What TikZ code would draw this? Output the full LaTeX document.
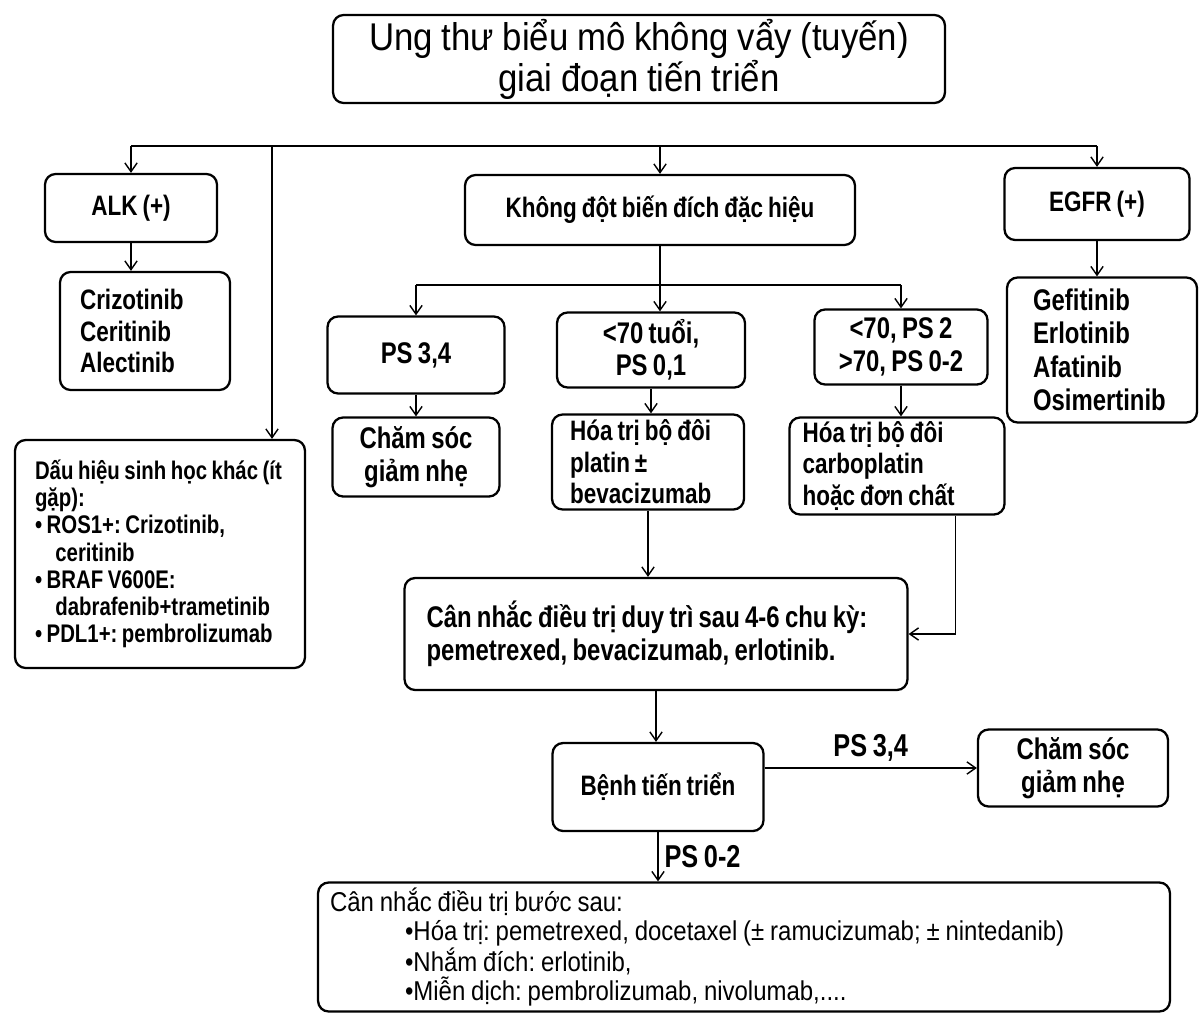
\documentclass[tikz,border=0pt]{standalone}
\usepackage{fontspec}
\setmainfont{Liberation Sans}
\newfontfamily\headfont{Liberation Sans}[FakeStretch=0.9, WordSpace=0.9]
\newfontfamily\boxfont{Liberation Sans}[FakeStretch=0.8, WordSpace=0.8]
\newfontfamily\notefont{Liberation Sans}[FakeStretch=0.88, WordSpace=0.88]
\frenchspacing
\usetikzlibrary{arrows.meta,positioning}

\begin{document}
\begin{tikzpicture}[x=0.02cm, y=-0.02cm,
box/.style={draw, rounded corners=6pt, line width=1.3pt, align=flush center, inner sep=2pt, font=\boxfont\bfseries\fontsize{16}{18}\selectfont},
link/.style={-{Straight Barb[length=5pt,width=7pt]}, line width=0.8pt},
lbl/.style={font=\boxfont\bfseries\fontsize{18}{20}\selectfont}
]
    \useasboundingbox (0,0) rectangle (1202,1017);

    \node[box, minimum width=12.24cm, minimum height=1.76cm, font=\headfont\fontsize{22}{18}\selectfont] (title) at (639,59) {Ung thư biểu mô không vẩy (tuyến)\\giai đoạn tiến triển};

    \node[box, minimum width=3.44cm, minimum height=1.36cm] (alk) at (131,208) {ALK (+)};
    \node[box, minimum width=7.8cm, minimum height=1.4cm] (nomut) at (660,210) {Không đột biến đích đặc hiệu};
    \node[box, minimum width=3.7cm, minimum height=1.44cm] (egfr) at (1097,204) {EGFR (+)};

    \node[box, align=flush left, inner xsep=0.4cm, text width=2.6cm, minimum height=2.36cm] (alkdrug) at (145,331) {Crizotinib\\Ceritinib\\Alectinib};
    \node[box, align=flush left, inner xsep=0.52cm, text width=2.76cm, minimum height=2.9cm, font=\boxfont\bfseries\fontsize{17}{19}\selectfont] (egfrdrug) at (1102,350) {Gefitinib\\Erlotinib\\Afatinib\\Osimertinib};

    \node[box, minimum width=3.54cm, minimum height=1.54cm, font=\boxfont\bfseries\fontsize{17}{18}\selectfont] (ps34) at (416,355) {PS 3,4};
    \node[box, minimum width=3.76cm, minimum height=1.5cm, font=\boxfont\bfseries\fontsize{17}{18}\selectfont] (young) at (651,350) {<70 tuổi,\\PS 0,1};
    \node[box, minimum width=3.46cm, minimum height=1.5cm, font=\boxfont\bfseries\fontsize{17}{19}\selectfont] (old) at (901,347) {<70, PS 2\\>70, PS 0-2};

    \node[box, minimum width=3.34cm, minimum height=1.58cm, font=\boxfont\bfseries\fontsize{17}{19}\selectfont] (care1) at (416,457) {Chăm sóc\\giảm nhẹ};
    \node[box, align=flush left, inner xsep=0.36cm, text width=3.12cm, minimum height=1.9cm] (platin) at (648,462) {Hóa trị bộ đôi\\platin ±\\bevacizumab};
    \node[box, align=flush left, inner xsep=0.26cm, text width=3.78cm, minimum height=1.94cm] (carbo) at (897,466) {Hóa trị bộ đôi\\carboplatin\\hoặc đơn chất};

    \node[box, align=flush left, inner xsep=0.4cm, text width=5cm, minimum height=4.56cm, font=\boxfont\bfseries\fontsize{14.5}{15.5}\selectfont] (other) at (160,554) {Dấu hiệu sinh học khác (ít\\gặp):\\\textbullet\ ROS1+: Crizotinib,\\\hspace*{0.8em}ceritinib\\\textbullet\ BRAF V600E:\\\hspace*{0.8em}dabrafenib+trametinib\\\textbullet\ PDL1+: pembrolizumab};

    \node[box, align=flush left, inner xsep=0.44cm, text width=9.18cm, minimum height=2.24cm, font=\boxfont\bfseries\fontsize{17}{19}\selectfont] (maint) at (656,634) {Cân nhắc điều trị duy trì sau 4-6 chu kỳ:\\pemetrexed, bevacizumab, erlotinib.};

    \node[box, minimum width=4.22cm, minimum height=1.76cm] (prog) at (658,787) {Bệnh tiến triển};
    \node[box, minimum width=3.8cm, minimum height=1.54cm, font=\boxfont\bfseries\fontsize{17}{19}\selectfont] (care2) at (1073,768) {Chăm sóc\\giảm nhẹ};

    \node[box, align=flush left, inner xsep=0.24cm, text width=16.56cm, minimum height=2.58cm, font=\notefont\fontsize{15.5}{16.5}\selectfont] (next) at (744,947) {Cân nhắc điều trị bước sau:\\\hspace*{1.5cm}•Hóa trị: pemetrexed, docetaxel (± ramucizumab; ± nintedanib)\\\hspace*{1.5cm}•Nhắm đích: erlotinib,\\\hspace*{1.5cm}•Miễn dịch: pembrolizumab, nivolumab,....};

    \coordinate (topbar) at (640,146);
    \coordinate (otherlink) at (272,146);
    \coordinate (split) at (660,285);

    \draw[line width=0.8pt] (alk.north |- topbar) -- (egfr.north |- topbar);
    \draw[link] (alk.north |- topbar) -- (alk.north);
    \draw[link] (nomut.north |- topbar) -- (nomut.north);
    \draw[link] (egfr.north |- topbar) -- (egfr.north);
    \draw[link] (otherlink) -- (otherlink |- other.north);

    \draw[link] (alk) -- (alk |- alkdrug.north);
    \draw[link] (egfr) -- (egfr |- egfrdrug.north);

    \draw[line width=0.8pt] (ps34.north |- split) -- (old.north |- split);
    \draw[link] (nomut.south) -- (nomut.south |- young.north);
    \draw[link] (ps34.north |- split) -- (ps34.north);
    \draw[link] (old.north |- split) -- (old.north);

    \draw[link] (ps34) -- (care1);
    \draw[link] (young) -- (young |- platin.north);
    \draw[link] (old) -- (old |- carbo.north);

    \draw[link] (platin.south) -- (platin.south |- maint.north);
    \draw[link] ([xshift=-1cm]carbo.south east) |- (maint.east);

    \draw[link] (maint) -- (maint |- prog.north);
    \draw[link] (prog.east |- care2.west) -- (care2.west) node[lbl, midway, above] {PS 3,4};
    \draw[link] (prog) -- (prog |- next.north) node[lbl, midway, right] {PS 0-2};
\end{tikzpicture}
\end{document}
